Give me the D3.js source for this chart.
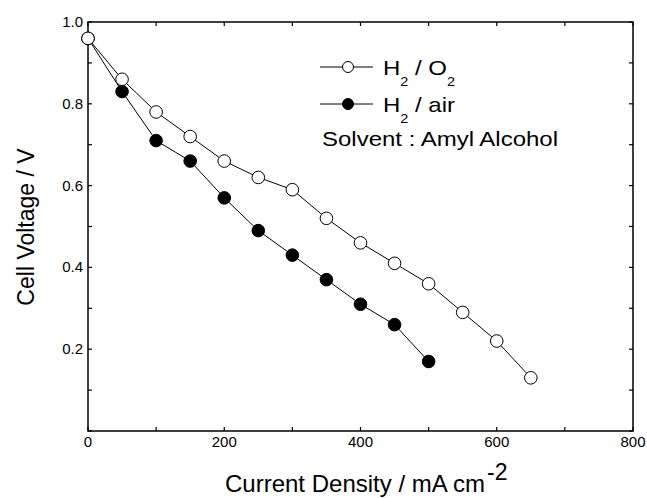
<!DOCTYPE html>
<html>
<head>
<meta charset="utf-8">
<script src="https://cdn.jsdelivr.net/npm/d3@7"></script>
<style>
  body { margin: 0; background: #fff; }
  text { font-family: "Liberation Sans", Arial, sans-serif; fill: #000; }
</style>
</head>
<body>
<svg width="647" height="498"></svg>
<script>
// Current density (mA cm-2) and cell voltage (V)
var o2Current = [0, 50, 100, 150, 200, 250, 300, 350, 400, 450, 500, 550, 600, 650];
var o2Voltage = [0.96, 0.86, 0.78, 0.72, 0.66, 0.62, 0.59, 0.52, 0.46, 0.41, 0.36, 0.29, 0.22, 0.13];
var airCurrent = [0, 50, 100, 150, 200, 250, 300, 350, 400, 450, 500];
var airVoltage = [0.96, 0.83, 0.71, 0.66, 0.57, 0.49, 0.43, 0.37, 0.31, 0.26, 0.17];

var xTicks = [0, 200, 400, 600, 800];
var yTicks = [0.2, 0.4, 0.6, 0.8, 1.0];

var series = [
    { name: 'o2', x: o2Current, y: o2Voltage, fill: '#fff' },
    { name: 'air', x: airCurrent, y: airVoltage, fill: '#000' }
];

var margin = { top: 22, right: 14, bottom: 67, left: 88 };
var width = 647 - margin.left - margin.right;
var height = 498 - margin.top - margin.bottom;

var svg = d3.select('svg');
var chart = svg.append('g')
    .attr('transform', 'translate(' + margin.left + ',' + margin.top + ')');

var xScale = d3.scaleLinear().domain([0, 800]).range([0, width]);
var yScale = d3.scaleLinear().domain([0, 1.0]).range([height, 0]);

// frame
chart.append('rect')
    .attr('width', width).attr('height', height)
    .attr('fill', 'none').attr('stroke', '#000').attr('stroke-width', 1.5);

// inward ticks on all four sides
var xMinor = d3.range(0, 801, 100);
var yMinor = d3.range(0, 1.001, 0.1);

chart.selectAll('.xt').data(xMinor).enter().append('line')
    .attr('x1', function(d) { return xScale(d); }).attr('x2', function(d) { return xScale(d); })
    .attr('y1', height).attr('y2', height - 4)
    .attr('stroke', '#000').attr('stroke-width', 1.2);
chart.selectAll('.xtt').data(xMinor).enter().append('line')
    .attr('x1', function(d) { return xScale(d); }).attr('x2', function(d) { return xScale(d); })
    .attr('y1', 0).attr('y2', 4)
    .attr('stroke', '#000').attr('stroke-width', 1.2);
chart.selectAll('.yt').data(yMinor).enter().append('line')
    .attr('y1', function(d) { return yScale(d); }).attr('y2', function(d) { return yScale(d); })
    .attr('x1', 0).attr('x2', 4)
    .attr('stroke', '#000').attr('stroke-width', 1.2);
chart.selectAll('.ytr').data(yMinor).enter().append('line')
    .attr('y1', function(d) { return yScale(d); }).attr('y2', function(d) { return yScale(d); })
    .attr('x1', width).attr('x2', width - 4)
    .attr('stroke', '#000').attr('stroke-width', 1.2);

// tick labels
chart.selectAll('.xl').data(xTicks).enter().append('text')
    .attr('x', function(d) { return xScale(d); })
    .attr('y', height + 16)
    .attr('text-anchor', 'middle')
    .style('font-size', '15px')
    .text(function(d) { return d; });

chart.selectAll('.yl').data(yTicks).enter().append('text')
    .attr('x', -5)
    .attr('y', function(d) { return yScale(d) + 5; })
    .attr('text-anchor', 'end')
    .style('font-size', '15px')
    .text(function(d) { return d.toFixed(1); });

// axis titles
svg.append('text')
    .attr('transform', 'translate(34,227) rotate(-90)')
    .attr('text-anchor', 'middle')
    .style('font-size', '23px')
    .text('Cell Voltage / V');

var xt = svg.append('text')
    .attr('x', 225).attr('y', 492)
    .style('font-size', '24px');
xt.append('tspan').text('Current Density / mA cm');
xt.append('tspan').attr('dx', 2).attr('dy', -12).style('font-size', '23px').text('-2');

// series
var line = d3.line()
    .x(function(d) { return xScale(d[0]); })
    .y(function(d) { return yScale(d[1]); });

series.forEach(function(s) {
    var pts = d3.zip(s.x, s.y);
    chart.append('path')
        .attr('d', line(pts))
        .attr('fill', 'none').attr('stroke', '#000').attr('stroke-width', 1);
});
series.slice().reverse().forEach(function(s) {
    var pts = d3.zip(s.x, s.y);
    chart.selectAll('.pt-' + s.name).data(pts).enter().append('circle')
        .attr('cx', function(d) { return xScale(d[0]); })
        .attr('cy', function(d) { return yScale(d[1]); })
        .attr('r', 6.3)
        .attr('fill', s.fill).attr('stroke', '#000').attr('stroke-width', 1);
});

// legend (text is drawn slightly wide, like the original)
var legend = svg.append('g');
var legendRows = [
    { fill: '#fff', y: 67, main: 'H', sub: '2', rest: ' / O', sub2: '2' },
    { fill: '#000', y: 104, main: 'H', sub: '2', rest: ' / air', sub2: null }
];
legendRows.forEach(function(r) {
    legend.append('line')
        .attr('x1', 320).attr('x2', 373).attr('y1', r.y).attr('y2', r.y)
        .attr('stroke', '#000').attr('stroke-width', 1);
    legend.append('circle')
        .attr('cx', 348).attr('cy', r.y).attr('r', 5.5)
        .attr('fill', r.fill).attr('stroke', '#000').attr('stroke-width', 1);
    var t = legend.append('text')
        .attr('transform', 'translate(383,' + (r.y + 8) + ') scale(1.2,1)')
        .style('font-size', '20px');
    t.append('tspan').text(r.main);
    t.append('tspan').attr('dy', 11).style('font-size', '12px').text(r.sub);
    t.append('tspan').attr('dy', -11).text(r.rest);
    if (r.sub2) {
        t.append('tspan').attr('dy', 11).style('font-size', '12px').text(r.sub2);
    }
});
legend.append('text')
    .attr('transform', 'translate(322,146) scale(1.2,1)')
    .style('font-size', '20px')
    .text('Solvent : Amyl Alcohol');
</script>
</body>
</html>
